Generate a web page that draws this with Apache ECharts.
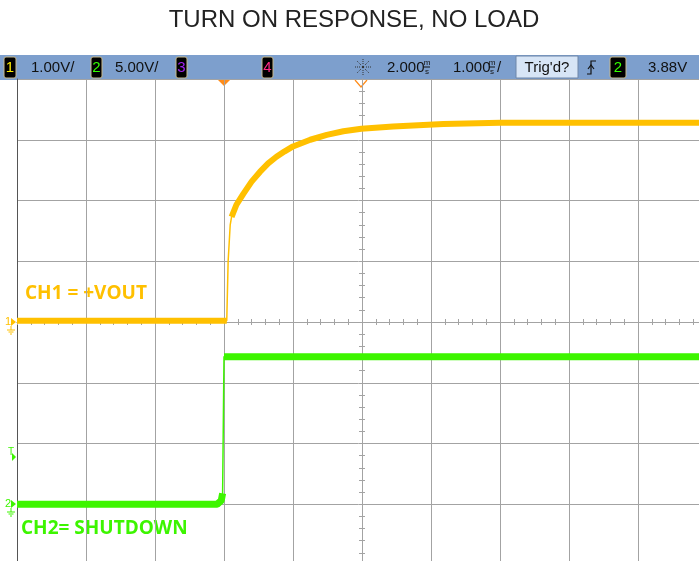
<!DOCTYPE html>
<html>
<head>
<meta charset="utf-8">
<title>Turn on response, no load</title>
<script src="https://cdn.jsdelivr.net/npm/echarts@6/dist/echarts.min.js"></script>
<style>
html, body { margin: 0; padding: 0; background: #fff; }
#chart { width: 699px; height: 561px; }
</style>
</head>
<body>
<div id="chart"></div>
<script>
// time in ms, trigger at 0; screen shows -3 .. 7 ms (1 ms/div, delay 2 ms)
var ch1Time  = [-3, 0.04, 0.06, 0.09, 0.11, 0.18, 0.28, 0.40, 0.52, 0.64, 0.76, 0.88, 1.00, 1.25, 1.49, 1.73, 1.99, 2.45, 3.18, 4.0, 5.0, 6.0, 7.0];
var ch1Volts = [0.02, 0.02, 1.00, 1.60, 1.73, 1.93, 2.11, 2.31, 2.47, 2.61, 2.72, 2.81, 2.89, 3.00, 3.08, 3.14, 3.18, 3.22, 3.26, 3.28, 3.28, 3.28, 3.28];
var ch2Time  = [-3, -0.10, -0.04, -0.02, 0.0, 0.03, 7.0];
var ch2Volts = [0, 0, 0.3, 0.9, 12.15, 12.15, 12.15];

// channel settings: volts per div and ground position in divs from centre
var ch1Scale = 1, ch1Ground = 0;
var ch2Scale = 5, ch2Ground = -3;

var yellow = '#ffc000', green = '#3df500', gridCol = '#a3a3a3', orange = '#ff8c1a';

function toDivs(ts, vs, scale, ground) {
    var out = [];
    for (var i = 0; i < ts.length; i++) out.push([ts[i], vs[i] / scale + ground]);
    return out;
}
// thick trace everywhere except the fast edge between gapFrom and gapTo
function thickPart(pts, gapFrom, gapTo) {
    var out = [];
    for (var i = 0; i < pts.length; i++) {
        if (i > gapFrom && i < gapTo) continue;
        out.push(pts[i]);
        if (i === gapFrom) out.push([(pts[i][0] + pts[gapTo][0]) / 2, '-']);
    }
    return out;
}

var ch1 = toDivs(ch1Time, ch1Volts, ch1Scale, ch1Ground);
var ch2 = toDivs(ch2Time, ch2Volts, ch2Scale, ch2Ground);

var G = { left: 17, top: 79, width: 690, height: 486, outerBoundsMode: 'none', containLabel: false };

function tickAxes(idx, inside) {
    return {
        x: { type: 'value', gridIndex: idx, min: -5, max: 5, interval: 0.2,
             axisLine: { show: true, onZero: true, lineStyle: { color: gridCol } },
             axisTick: { show: true, inside: inside, length: 3, lineStyle: { color: gridCol } },
             axisLabel: { show: false }, splitLine: { show: false } },
        y: { type: 'value', gridIndex: idx, min: -4, max: 4, interval: 0.2,
             axisLine: { show: true, onZero: true, lineStyle: { color: gridCol } },
             axisTick: { show: true, inside: inside, length: 3, lineStyle: { color: gridCol } },
             axisLabel: { show: false }, splitLine: { show: false } }
    };
}
var tIn = tickAxes(1, true), tOut = tickAxes(2, false);

function box(x, w, label, col) {
    return [
        { type: 'rect', shape: { x: x, y: 57, width: w, height: 21, r: 2 }, style: { fill: '#000', stroke: '#c8b98c', lineWidth: 1 } },
        { type: 'text', x: x + w / 2, y: 68, style: { text: label, fill: col, font: '15px "Liberation Sans"', align: 'center', verticalAlign: 'middle' } }
    ];
}
function hdrText(x, s) {
    return { type: 'text', x: x, y: 68, style: { text: s, fill: '#111', font: '15px "Liberation Sans"', verticalAlign: 'middle' } };
}
function msGlyph(x) {
    return [
        { type: 'text', x: x, y: 63, style: { text: 'm', fill: '#111', font: '8px "Liberation Sans"', align: 'center', verticalAlign: 'middle' } },
        { type: 'line', shape: { x1: x - 3, y1: 67, x2: x + 3, y2: 67 }, style: { stroke: '#111', lineWidth: 1 } },
        { type: 'text', x: x, y: 72, style: { text: 's', fill: '#111', font: '8px "Liberation Sans"', align: 'center', verticalAlign: 'middle' } }
    ];
}
function gndMarker(y, label, col) {
    return [
        { type: 'text', x: 5, y: y, style: { text: label, fill: col, font: '11px "Liberation Sans"', verticalAlign: 'middle' } },
        { type: 'polygon', shape: { points: [[11, y - 4], [16, y], [11, y + 4]] }, style: { fill: col } },
        { type: 'line', shape: { x1: 11, y1: y + 4, x2: 11, y2: y + 8 }, style: { stroke: col, lineWidth: 1 } },
        { type: 'line', shape: { x1: 7, y1: y + 8, x2: 15, y2: y + 8 }, style: { stroke: col, lineWidth: 1 } },
        { type: 'line', shape: { x1: 8.5, y1: y + 10, x2: 13.5, y2: y + 10 }, style: { stroke: col, lineWidth: 1 } },
        { type: 'line', shape: { x1: 10, y1: y + 12, x2: 12, y2: y + 12 }, style: { stroke: col, lineWidth: 1 } }
    ];
}
function sun(cx, cy) {
    var els = [{ type: 'circle', shape: { cx: cx, cy: cy, r: 1.2 }, style: { fill: '#333' } }];
    for (var k = 0; k < 8; k++) {
        var a = k * Math.PI / 4;
        els.push({ type: 'line', shape: { x1: cx + 3 * Math.cos(a), y1: cy + 3 * Math.sin(a), x2: cx + 8 * Math.cos(a), y2: cy + 8 * Math.sin(a) },
                   style: { stroke: '#333', lineWidth: 1, lineDash: [1, 1] } });
    }
    return els;
}

var graphics = [
    { type: 'text', x: 354, y: 20, style: { text: 'TURN ON RESPONSE, NO LOAD', fill: '#222', font: '24px "Liberation Sans"', align: 'center', verticalAlign: 'middle' } },
    { type: 'rect', shape: { x: 0, y: 55, width: 699, height: 25 }, style: { fill: '#7d9fcd' } },
    hdrText(31, '1.00V/'), hdrText(115, '5.00V/'),
    hdrText(387, '2.000'), hdrText(453, '1.000'), hdrText(497, '/'),
    { type: 'rect', shape: { x: 516, y: 56, width: 62, height: 22 }, style: { fill: '#d7e5f6', stroke: '#6f86a8', lineWidth: 1 } },
    { type: 'text', x: 547, y: 68, style: { text: "Trig'd?", fill: '#111', font: '15px "Liberation Sans"', align: 'center', verticalAlign: 'middle' } },
    { type: 'polyline', shape: { points: [[587, 74], [591, 74], [591, 61], [596, 61]] }, style: { stroke: '#111', lineWidth: 1.2, fill: null } },
    { type: 'polyline', shape: { points: [[588, 69], [591, 65], [594, 69]] }, style: { stroke: '#111', lineWidth: 1.2, fill: null } },
    hdrText(648, '3.88V'),
    { type: 'polygon', shape: { points: [[218, 80], [230, 80], [224, 86]] }, style: { fill: orange } },
    { type: 'polyline', shape: { points: [[355, 80], [361, 87], [367, 80]] }, style: { stroke: orange, lineWidth: 1.2, fill: null } },
    { type: 'text', x: 25, y: 294, style: { text: 'CH1 = +VOUT', fill: yellow, font: 'bold 19px "Open Sans"', verticalAlign: 'middle' } },
    { type: 'text', x: 21, y: 529, style: { text: 'CH2= SHUTDOWN', fill: green, font: 'bold 19px "Open Sans"', verticalAlign: 'middle' } },
    { type: 'text', x: 8, y: 452, style: { text: 'T', fill: green, font: '10px "Liberation Sans"', verticalAlign: 'middle' } },
    { type: 'polygon', shape: { points: [[12, 453], [16, 457], [12, 461]] }, style: { fill: green } }
]
.concat(box(4, 12, '1', '#ffee00'), box(91, 11, '2', '#33ff00'), box(176, 11, '3', '#a020f0'), box(262, 11, '4', '#ff2a85'), box(610, 16, '2', '#33ff00'))
.concat(msGlyph(427), msGlyph(492), sun(363, 67))
.concat(gndMarker(322, '1', yellow), gndMarker(504, '2', green));

var chart = echarts.init(document.getElementById('chart'));
chart.setOption({
    animation: false,
    backgroundColor: '#fff',
    grid: [G, G, G],
    xAxis: [{
        type: 'value', gridIndex: 0, min: -3, max: 7, interval: 1,
        axisLine: { show: false, onZero: false },
        axisTick: { show: false }, axisLabel: { show: false },
        splitLine: { show: true, lineStyle: { color: gridCol, width: 1 } }
    }, tIn.x, tOut.x],
    yAxis: [{
        type: 'value', gridIndex: 0, min: -4, max: 4, interval: 1,
        axisLine: { show: true, onZero: false, lineStyle: { color: '#555', width: 1 } },
        axisTick: { show: false }, axisLabel: { show: false },
        splitLine: { show: true, lineStyle: { color: gridCol, width: 1 } }
    }, tIn.y, tOut.y],
    series: [
        { type: 'line', xAxisIndex: 0, yAxisIndex: 0, data: ch2, showSymbol: false, lineStyle: { color: green, width: 1.5 }, z: 3 },
        { type: 'line', xAxisIndex: 0, yAxisIndex: 0, data: thickPart(ch2, 3, 4), showSymbol: false, connectNulls: false, lineStyle: { color: green, width: 7, cap: 'butt' }, z: 3 },
        { type: 'line', xAxisIndex: 0, yAxisIndex: 0, data: ch1, showSymbol: false, lineStyle: { color: yellow, width: 1.5 }, z: 4 },
        { type: 'line', xAxisIndex: 0, yAxisIndex: 0, data: thickPart(ch1, 1, 4), showSymbol: false, connectNulls: false, lineStyle: { color: yellow, width: 6, cap: 'butt' }, z: 4 }
    ],
    graphic: graphics
});
</script>
</body>
</html>
